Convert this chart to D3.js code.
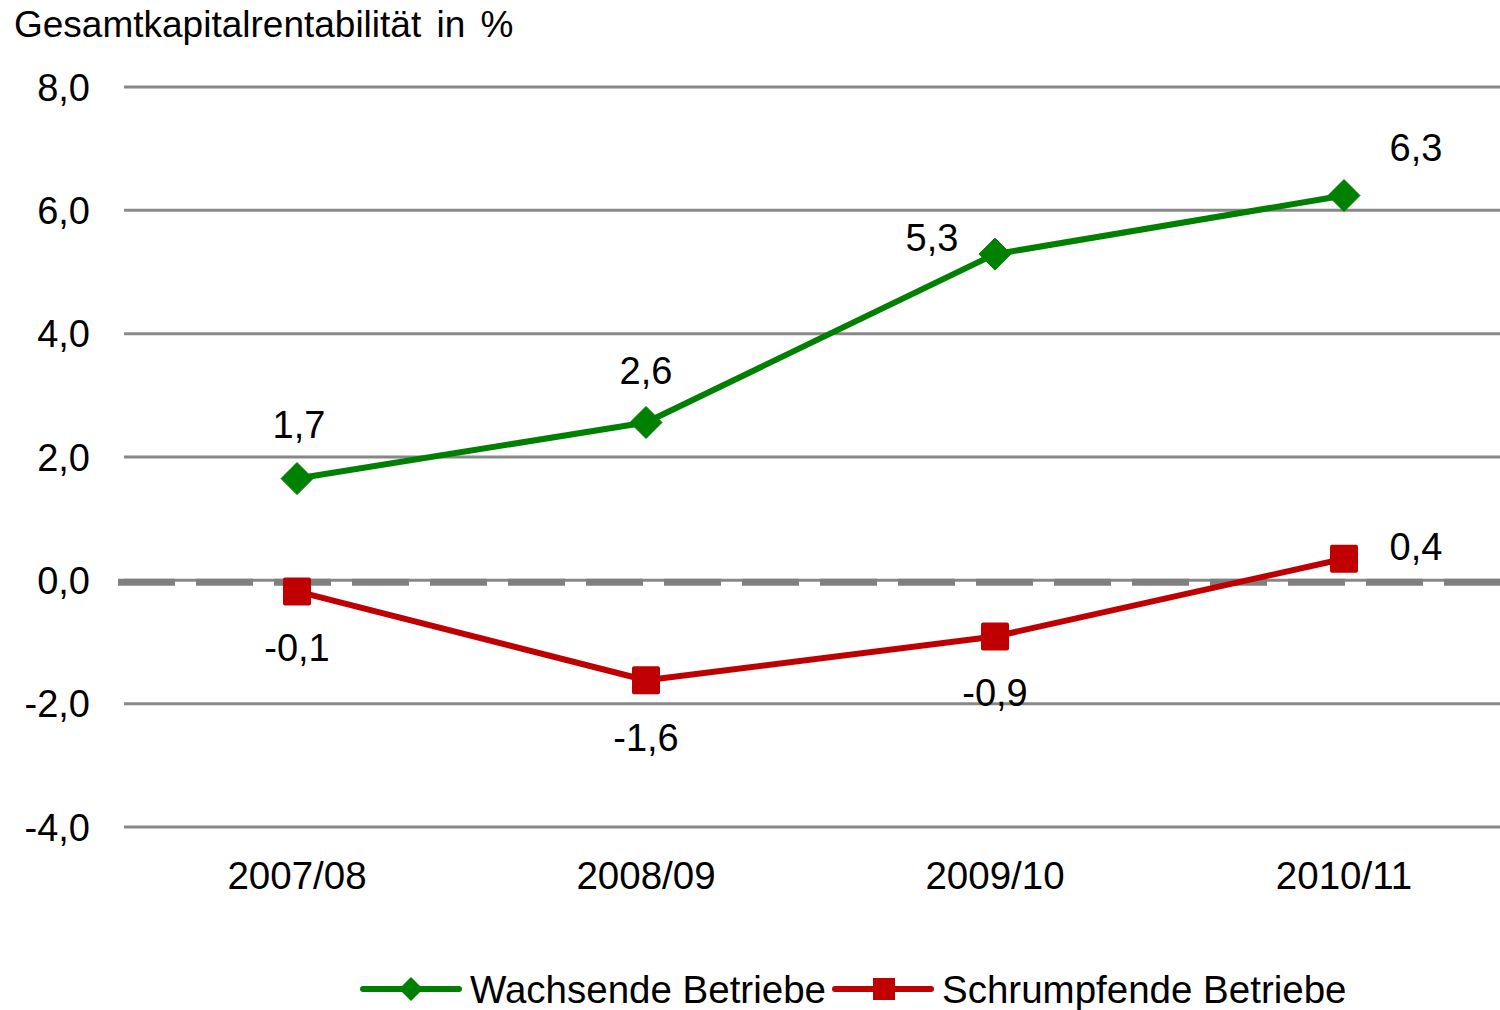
<!DOCTYPE html>
<html>
<head>
<meta charset="utf-8">
<script src="https://cdn.jsdelivr.net/npm/d3@7"></script>
<style>
  body { margin: 0; background: #fff; }
  text { font-family: "Liberation Sans", Arial, sans-serif; fill: #000; }
</style>
</head>
<body>
<div id="chart"></div>
<script>
// data
var categories = ["2007/08", "2008/09", "2009/10", "2010/11"];
var wachsend = [1.65, 2.56, 5.29, 6.24];
var schrumpfend = [-0.18, -1.62, -0.91, 0.35];
var wachsendLabels = ["1,7", "2,6", "5,3", "6,3"];
var schrumpfendLabels = ["-0,1", "-1,6", "-0,9", "0,4"];
var yTicks = [-4, -2, 0, 2, 4, 6, 8];

// label placement relative to the point (dx, dy)
var wachsendOffsets = [[2, -54], [0, -52], [-63, -17], [72, -48]];
var schrumpfendOffsets = [[0, 56], [0, 57], [0, 56], [72, -12]];

var w = 1500, h = 1010;
var svg = d3.select("#chart").append("svg")
    .attr("width", w)
    .attr("height", h);

var x = d3.scaleBand().domain(categories).range([122.5, 1518.5]);
var y = d3.scaleLinear().domain([-4, 8]).range([827, 87]);
var cx = function(c) { return x(c) + x.bandwidth() / 2; };
var fmt = function(v) { return v.toFixed(1).replace(".", ","); };

// title
svg.append("text")
    .attr("x", 14).attr("y", 37)
    .style("font-size", "37px")
    .style("word-spacing", "5px")
    .text("Gesamtkapitalrentabilität in %");

// grid
svg.selectAll("line.grid")
    .data(yTicks)
    .enter().append("line")
    .attr("class", "grid")
    .attr("x1", 124).attr("x2", 1518)
    .attr("y1", function(d) { return y(d); })
    .attr("y2", function(d) { return y(d); })
    .attr("stroke", "#888")
    .attr("stroke-width", 3);

// dashed zero line
svg.append("line")
    .attr("x1", 118).attr("x2", 1518)
    .attr("y1", y(0) + 2).attr("y2", y(0) + 2)
    .attr("stroke", "#808080")
    .attr("stroke-width", 7)
    .attr("stroke-dasharray", "57 21");

// y tick labels
svg.selectAll("text.ytick")
    .data(yTicks)
    .enter().append("text")
    .attr("class", "ytick")
    .attr("x", 90)
    .attr("y", function(d) { return y(d); })
    .attr("dy", "0.36em")
    .attr("text-anchor", "end")
    .style("font-size", "38px")
    .text(fmt);

// x labels
svg.selectAll("text.xtick")
    .data(categories)
    .enter().append("text")
    .attr("class", "xtick")
    .attr("x", cx)
    .attr("y", 889)
    .attr("text-anchor", "middle")
    .style("font-size", "38.5px")
    .text(function(d) { return d; });

var line = d3.line()
    .x(function(d, i) { return cx(categories[i]); })
    .y(function(d) { return y(d); });

var diamond = function(s) {
  return "M0," + (-s) + "L" + s + ",0L0," + s + "L" + (-s) + ",0Z";
};

var series = [
  { name: "Wachsende Betriebe", values: wachsend, labels: wachsendLabels, offsets: wachsendOffsets, color: "#008000", marker: "diamond" },
  { name: "Schrumpfende Betriebe", values: schrumpfend, labels: schrumpfendLabels, offsets: schrumpfendOffsets, color: "#c00000", marker: "square" }
];

series.forEach(function(s) {
  svg.append("path")
      .datum(s.values)
      .attr("d", line)
      .attr("fill", "none")
      .attr("stroke", s.color)
      .attr("stroke-width", 6)
      .attr("stroke-linejoin", "round");

  var g = svg.selectAll(null)
      .data(s.values)
      .enter().append("g")
      .attr("transform", function(d, i) { return "translate(" + cx(categories[i]) + "," + y(d) + ")"; });

  if (s.marker == "diamond") {
    g.append("path")
        .attr("d", diamond(16))
        .attr("fill", s.color)
        .attr("stroke", s.color)
        .attr("stroke-width", 1)
        .attr("stroke-linejoin", "round");
  } else {
    g.append("rect")
        .attr("x", -14).attr("y", -14)
        .attr("width", 28).attr("height", 28)
        .attr("rx", 2)
        .attr("fill", s.color);
  }

  svg.selectAll(null)
      .data(s.values)
      .enter().append("text")
      .attr("x", function(d, i) { return cx(categories[i]) + s.offsets[i][0]; })
      .attr("y", function(d, i) { return y(d) + s.offsets[i][1]; })
      .attr("dy", "0.36em")
      .attr("text-anchor", "middle")
      .style("font-size", "38px")
      .text(function(d, i) { return s.labels[i]; });
});

// legend
var legendPos = [363, 835];
series.forEach(function(s, i) {
  var lg = svg.append("g").attr("transform", "translate(" + legendPos[i] + ",989)");
  lg.append("line")
      .attr("x1", 0).attr("x2", 96)
      .attr("stroke", s.color)
      .attr("stroke-width", 6)
      .attr("stroke-linecap", "round");
  if (s.marker == "diamond") {
    lg.append("path").attr("d", diamond(12)).attr("transform", "translate(48,0)").attr("fill", s.color);
  } else {
    lg.append("rect").attr("x", 38).attr("y", -11).attr("width", 22).attr("height", 22).attr("fill", s.color);
  }
  lg.append("text")
      .attr("x", 107).attr("y", 0)
      .attr("dy", "0.36em")
      .style("font-size", "38.5px")
      .text(s.name);
});
</script>
</body>
</html>
